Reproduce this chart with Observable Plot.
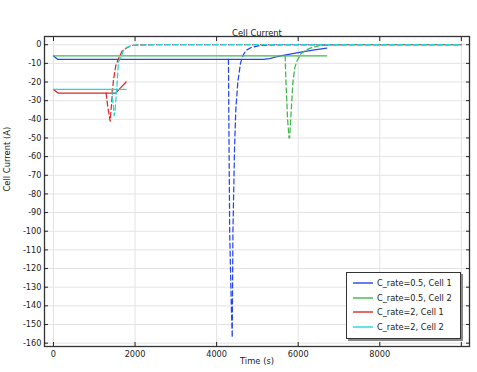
<!DOCTYPE html>
<html><head><meta charset="utf-8">
<script src="https://cdn.jsdelivr.net/npm/d3@7"></script>
<script src="https://cdn.jsdelivr.net/npm/@observablehq/plot@0.6"></script>
<style>
body{margin:0;background:#fff;}
#wrap{position:relative;width:477px;height:372px;font-family:"DejaVu Sans",sans-serif;}
#legend{position:absolute;left:346px;top:272px;width:113px;height:65px;border:1px solid #333;box-shadow:2px 2px 0 #888;background:#fff;font-size:8.2px;color:#222;}
#legend .row{position:absolute;left:0;height:14px;display:flex;align-items:center;white-space:nowrap;}
#legend svg{margin-left:6px;margin-right:4px;}
</style></head><body><div id="wrap"></div>
<script>
const title = "Cell Current";
const xLabel = "Time (s)";
const yLabel = "Cell Current (A)";
const xTicks = [0, 2000, 4000, 6000, 8000, 10000];
const xTickLabels = [0, 2000, 4000, 6000, 8000];
const yTicks = d3.range(-160, 1, 10);

const seriesNames = ["C_rate=0.5, Cell 1", "C_rate=0.5, Cell 2", "C_rate=2, Cell 1", "C_rate=2, Cell 2"];
const seriesColors = ["#2846f0", "#3cba4a", "#e02626", "#22d6dc"];

// [time (s), current (A)]
const blueSolid = [[0,-6],[100,-7.8],[1000,-7.8],[3000,-7.8],[5150,-7.8],[5300,-7.5],[5450,-6.6],[5600,-5.8],[5800,-5.0],[6100,-3.9],[6400,-2.8],[6700,-1.8]];
const blueDashed = [[4290,-7.8],[4300,-40],[4320,-100],[4360,-140],[4383,-157],[4400,-100],[4440,-55],[4470,-35],[4520,-20],[4585,-10],[4650,-5.5],[4724,-3],[4850,-1.5],[5050,-0.4],[5300,-0.1],[5600,0],[10000,0]];
const greenSolid = [[0,-6],[1000,-6],[3000,-6],[5000,-6],[6700,-6]];
const greenDashed = [[5680,-6],[5700,-20],[5740,-40],[5775,-50],[5790,-50],[5830,-35],[5870,-20],[5920,-12],[5975,-8.5],[6060,-5],[6180,-3],[6350,-1.4],[6550,-0.4],[6800,-0.1],[7100,0],[10000,0]];
const redSolid = [[0,-24],[120,-26],[1000,-26],[1520,-26],[1650,-23],[1780,-20]];
const redDashed = [[1290,-26],[1330,-33],[1390,-41],[1430,-30],[1470,-19],[1530,-11],[1593,-7.5],[1680,-3.5],[1760,-2.2],[1860,-1],[1960,-0.3],[2200,-0.05],[2500,0],[10000,0]];
const cyanSolid = [[0,-24],[1000,-24],[1780,-24]];
const cyanDashed = [[1430,-24],[1460,-31],[1490,-38],[1512,-35],[1535,-28],[1554,-22.8],[1593,-9.3],[1658,-6.8],[1715,-3],[1798,-1.4],[1920,-0.4],[2100,-0.1],[2400,0],[10000,0]];

const series = [
  {data: blueSolid, c: 0, dash: null},
  {data: blueDashed, c: 0, dash: "5,3"},
  {data: greenSolid, c: 1, dash: null},
  {data: greenDashed, c: 1, dash: "5,3"},
  {data: redSolid, c: 2, dash: null},
  {data: redDashed, c: 2, dash: "5,3"},
  {data: cyanSolid, c: 3, dash: null},
  {data: cyanDashed, c: 3, dash: "5,3"}
];

const lineMarks = series.map(s => Plot.line(s.data, {
  x: d => d[0], y: d => d[1], stroke: seriesColors[s.c], strokeWidth: 1.25,
  strokeDasharray: s.dash
}));

const blank = () => "";
const chart = Plot.plot({
  width: 477, height: 372,
  marginLeft: 44, marginRight: 8, marginTop: 36, marginBottom: 26,
  style: {fontFamily: "DejaVu Sans", fontSize: "8.2px", color: "#222", background: "#fff"},
  x: {domain: [-220, 10200]},
  y: {domain: [-161.8, 4.4]},
  marks: [
    Plot.gridX(xTicks, {stroke: "#e3e3e3", strokeOpacity: 1}),
    Plot.gridY(yTicks, {stroke: "#e3e3e3", strokeOpacity: 1}),
    ...lineMarks,
    Plot.frame({stroke: "#333", strokeWidth: 1.3}),
    Plot.axisX(xTickLabels, {anchor: "bottom", tickSize: 0, tickPadding: 5, tickFormat: d => String(d), label: null}),
    Plot.axisX(xTicks, {anchor: "bottom", tickSize: -4, tickFormat: blank, label: null}),
    Plot.axisX(xTicks, {anchor: "top", tickSize: -4, tickFormat: blank, label: null}),
    Plot.axisY(yTicks, {anchor: "left", tickSize: 0, tickPadding: 3, tickFormat: d => String(d), label: null}),
    Plot.axisY(yTicks, {anchor: "left", tickSize: -4, tickFormat: blank, label: null}),
    Plot.axisY(yTicks, {anchor: "right", tickSize: -4, tickFormat: blank, label: null}),
    Plot.text([title], {text: d => d, frameAnchor: "top", dy: -6, fontSize: 8.4}),
    Plot.text([xLabel], {text: d => d, frameAnchor: "bottom", dy: 17, fontSize: 8.4}),
    Plot.text([yLabel], {text: d => d, frameAnchor: "left", dx: -37, rotate: -90, fontSize: 8.4})
  ]
});
const wrap = document.getElementById("wrap");
wrap.appendChild(chart);

const legend = document.createElement("div");
legend.id = "legend";
seriesNames.forEach((name, i) => {
  const row = document.createElement("div");
  row.className = "row";
  row.style.top = (3 + 14.5 * i) + "px";
  const sw = d3.create("svg").attr("width", 20).attr("height", 4);
  sw.append("line").attr("x1", 0).attr("x2", 20).attr("y1", 2).attr("y2", 2)
    .attr("stroke", seriesColors[i]).attr("stroke-width", 2).attr("stroke-opacity", 0.7);
  row.appendChild(sw.node());
  const span = document.createElement("span");
  span.textContent = name;
  row.appendChild(span);
  legend.appendChild(row);
});
wrap.appendChild(legend);
</script>
</body></html>
